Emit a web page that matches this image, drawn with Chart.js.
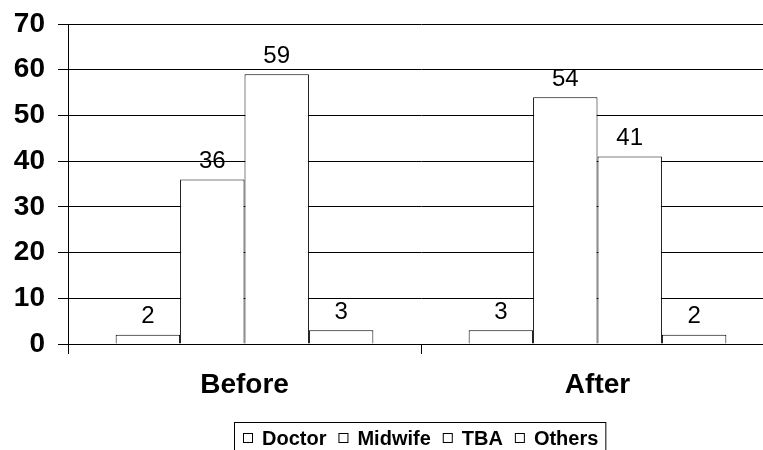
<!DOCTYPE html>
<html>
<head>
<meta charset="utf-8">
<title>Birth attendants before and after</title>
<script src="https://cdn.jsdelivr.net/npm/chart.js@4.4.1/dist/chart.umd.min.js"></script>
<style>
  html, body { margin: 0; padding: 0; background: #fff; overflow: hidden; }
  #wrap { width: 842px; height: 470px; }
</style>
</head>
<body>
<div id="wrap"><canvas id="c" width="842" height="470"></canvas></div>
<script>
// Categories and series values
const categories = ['Before', 'After'];
const seriesNames = ['Doctor', 'Midwife', 'TBA', 'Others'];
const doctor  = [2, 3];
const midwife = [36, 54];
const tba     = [59, 41];
const others  = [3, 2];
// Value axis range
const yMin = 0;
const yMax = 70;
const yStep = 10;

const FONT = '"Liberation Sans", Arial, sans-serif';
const seriesValues = [doctor, midwife, tba, others];

// Value labels above each bar
const barValueLabels = {
  id: 'barValueLabels',
  afterDatasetsDraw(chart) {
    const ctx = chart.ctx;
    ctx.save();
    ctx.fillStyle = '#000';
    ctx.font = '24px ' + FONT;
    ctx.textAlign = 'center';
    ctx.textBaseline = 'alphabetic';
    chart.data.datasets.forEach((ds, i) => {
      chart.getDatasetMeta(i).data.forEach((bar, j) => {
        ctx.fillText(String(ds.data[j]), bar.x, bar.y - 11.5);
      });
    });
    ctx.restore();
  }
};

// Boxed legend centred under the plot area
const boxedLegend = {
  id: 'boxedLegend',
  afterDraw(chart) {
    const ctx = chart.ctx;
    const area = chart.chartArea;
    ctx.save();
    ctx.font = 'bold 20px ' + FONT;
    const marker = 10, gapText = 9, gapItem = 12;
    const names = chart.data.datasets.map(d => d.label);
    const widths = names.map(n => ctx.measureText(n).width);
    let total = 0;
    widths.forEach((w, i) => { total += marker + gapText + w + (i < widths.length - 1 ? gapItem : 0); });
    const cx = (area.left + area.right) / 2;
    let x = Math.round(cx - total / 2);
    const top = 422;
    ctx.strokeStyle = '#000';
    ctx.lineWidth = 1;
    ctx.strokeRect(x - 8.5, top + 0.5, total + 16, 60);
    ctx.textAlign = 'left';
    ctx.textBaseline = 'alphabetic';
    names.forEach((n, i) => {
      ctx.fillStyle = '#fff';
      ctx.fillRect(x, 433, marker - 1, marker - 1);
      ctx.strokeStyle = '#000';
      ctx.strokeRect(x + 0.5, 433.5, marker - 1, marker - 1);
      ctx.fillStyle = '#000';
      ctx.fillText(n, x + marker + gapText, 445);
      x += marker + gapText + widths[i] + gapItem;
    });
    ctx.restore();
  }
};

const datasets = seriesNames.map((name, i) => ({
  label: name,
  data: seriesValues[i],
  backgroundColor: '#ffffff',
  borderColor: '#000000',
  borderWidth: 1,
  categoryPercentage: 0.73,
  barPercentage: 1.0
}));

new Chart(document.getElementById('c'), {
  type: 'bar',
  data: { labels: categories, datasets },
  plugins: [barValueLabels, boxedLegend],
  options: {
    responsive: false,
    animation: false,
    devicePixelRatio: 1,
    layout: { padding: { left: 0, top: 24, right: 68, bottom: 66 } },
    plugins: { legend: { display: false }, tooltip: { enabled: false } },
    scales: {
      x: {
        offset: true,
        grid: { offset: true, drawOnChartArea: false, drawTicks: true, tickLength: 10, color: '#000', lineWidth: 1 },
        border: { display: true, color: '#000', width: 1 },
        ticks: { color: '#000', padding: 14, font: { family: FONT, size: 28, weight: 'bold' } },
        afterFit(scale) { scale.height = 60; scale.paddingLeft = 0; scale.paddingRight = 0; }
      },
      y: {
        min: yMin,
        max: yMax,
        ticks: { stepSize: yStep, color: '#000', padding: 13, font: { family: FONT, size: 28, weight: 'bold' } },
        grid: { color: '#000', lineWidth: 1, drawTicks: true, tickLength: 10 },
        border: { display: true, color: '#000', width: 1 },
        afterFit(scale) { scale.width = 68; scale.paddingTop = 0; scale.paddingBottom = 0; }
      }
    }
  }
});
</script>
</body>
</html>
